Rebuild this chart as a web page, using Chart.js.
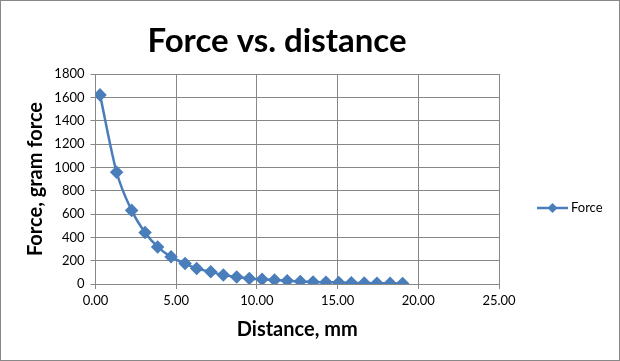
<!DOCTYPE html>
<html>
<head>
<meta charset="utf-8">
<script src="https://cdn.jsdelivr.net/npm/chart.js@4.4.1/dist/chart.umd.min.js"></script>
<style>
html,body{margin:0;padding:0;background:#fff;}
#wrap{position:relative;width:620px;height:361px;}
canvas{display:block;}
</style>
</head>
<body>
<div id="wrap"><canvas id="c" width="620" height="361"></canvas></div>
<script>
const chartTitle = "Force vs. distance";
const xAxisTitle = "Distance, mm";
const yAxisTitle = "Force, gram force";
const seriesName = "Force";
const distance = [0.28, 1.31, 2.24, 3.07, 3.85, 4.68, 5.55, 6.27, 7.14, 7.92, 8.75, 9.53, 10.32, 11.09, 11.88, 12.69, 13.48, 14.28, 15.07, 15.85, 16.65, 17.44, 18.25, 19.03];
const force = [1621, 958, 631, 441, 318, 233, 176, 133, 105, 77, 60, 48, 40, 34, 28, 22, 18, 15, 12, 10, 8, 7, 6, 5];
const xTicks = [0, 5, 10, 15, 20, 25];
const yTicks = [0, 200, 400, 600, 800, 1000, 1200, 1400, 1600, 1800];

const blue = "#4A7EBB";
const gridColor = "#878787";
const fontFam = "Lato, 'Open Sans', sans-serif";

const extras = {
  id: "extras",
  afterDraw(chart) {
    const ctx = chart.ctx;
    const ca = chart.chartArea;
    ctx.save();
    // title
    ctx.fillStyle = "#000";
    ctx.font = "bold 33px " + fontFam;
    ctx.textAlign = "center";
    ctx.textBaseline = "alphabetic";
    ctx.fillText(chartTitle, 277, 52);
    // x axis title
    ctx.font = "bold 20px " + fontFam;
    ctx.fillText(xAxisTitle, (ca.left + ca.right) / 2, 336);
    // y axis title
    ctx.save();
    ctx.translate(42, (ca.top + ca.bottom) / 2);
    ctx.rotate(-Math.PI / 2);
    ctx.fillText(yAxisTitle, 0, 0);
    ctx.restore();
    // legend
    const ly = 208;
    ctx.strokeStyle = blue;
    ctx.lineWidth = 2.5;
    ctx.beginPath();
    ctx.moveTo(537, ly);
    ctx.lineTo(568, ly);
    ctx.stroke();
    ctx.fillStyle = blue;
    ctx.beginPath();
    ctx.moveTo(552.5, ly - 5);
    ctx.lineTo(557.5, ly);
    ctx.lineTo(552.5, ly + 5);
    ctx.lineTo(547.5, ly);
    ctx.closePath();
    ctx.fill();
    ctx.fillStyle = "#000";
    ctx.font = "13px " + fontFam;
    ctx.textAlign = "left";
    ctx.textBaseline = "middle";
    ctx.fillText(seriesName, 571, ly);
    // border
    ctx.strokeStyle = "#888";
    ctx.lineWidth = 1;
    ctx.strokeRect(0.5, 0.5, 619, 360);
    ctx.restore();
  }
};

new Chart(document.getElementById("c"), {
  type: "scatter",
  data: {
    datasets: [{
      label: seriesName,
      data: distance.map((d, i) => ({x: d, y: force[i]})),
      showLine: true,
      borderColor: blue,
      backgroundColor: blue,
      borderWidth: 2.5,
      pointStyle: "rectRot",
      pointRadius: 5,
      pointHoverRadius: 5,
      cubicInterpolationMode: "monotone"
    }]
  },
  options: {
    responsive: false,
    animation: false,
    devicePixelRatio: 1,
    layout: {padding: {left: 0, top: 74, right: 121, bottom: 0}},
    plugins: {legend: {display: false}, title: {display: false}, tooltip: {enabled: false}},
    scales: {
      x: {
        type: "linear",
        min: 0, max: 25,
        afterBuildTicks: s => { s.ticks = xTicks.map(v => ({value: v})); },
        afterFit: s => { s.height = 77; },
        ticks: {
          callback: v => v.toFixed(2),
          color: "#000",
          font: {family: fontFam, size: 13},
          padding: 4,
          maxRotation: 0
        },
        grid: {color: gridColor, tickLength: 5, drawTicks: true},
        border: {color: gridColor},
        title: {display: false}
      },
      y: {
        type: "linear",
        min: 0, max: 1800,
        afterBuildTicks: s => { s.ticks = yTicks.map(v => ({value: v})); },
        afterFit: s => { s.width = 95.5; },
        ticks: {
          callback: v => String(v),
          color: "#000",
          font: {family: fontFam, size: 13},
          padding: 6
        },
        grid: {color: gridColor, tickLength: 5, drawTicks: true},
        border: {color: gridColor},
        title: {display: false}
      }
    }
  },
  plugins: [extras]
});
</script>
</body>
</html>
